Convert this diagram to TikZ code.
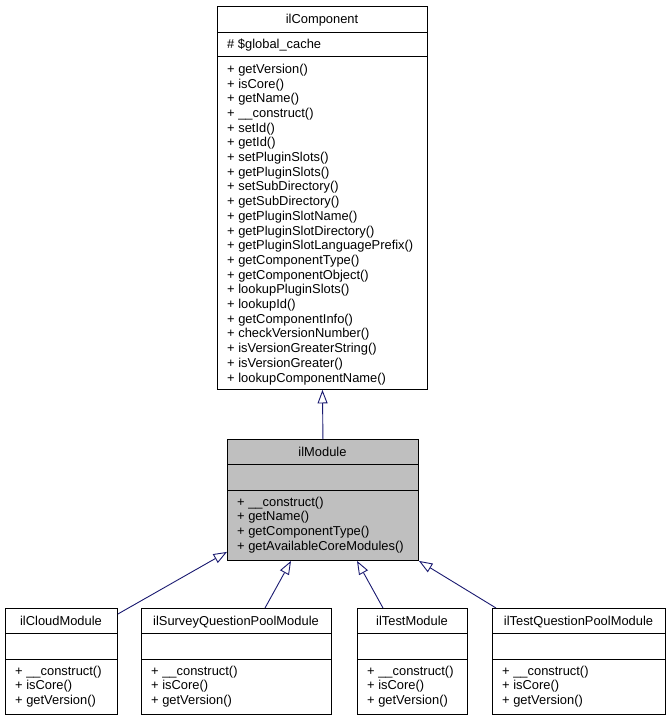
\documentclass[tikz,border=0pt]{standalone}
\usepackage{fontspec}
\setmainfont{Liberation Sans}
\usetikzlibrary{arrows.meta,calc}
\definecolor{edgeblue}{HTML}{191970}
\definecolor{modgray}{HTML}{BFBFBF}
\tikzset{
  box/.style={draw=black, line width=0.9pt, inner sep=0pt, anchor=north west, fill=white},
  sep/.style={draw=black, line width=0.9pt},
  member/.style={anchor=base west, inner sep=0pt, font=\fontsize{12.9}{14}\selectfont},
  ctitle/.style={anchor=base, inner sep=0pt, font=\fontsize{12.9}{14}\selectfont},
  inherit/.style={draw=edgeblue, line width=0.9pt, -{Triangle[open, length=13.5pt, width=10pt, fill=white]}},
}
\begin{document}
\begin{tikzpicture}[x=1pt, y=-1pt]
\useasboundingbox (0,0) rectangle (669,720);
% ilComponent
\node[box, minimum width=210pt, minimum height=383pt] (comp) at (217,6) {};
\draw[sep] (217,32) -- (427,32);
\draw[sep] (217,56) -- (427,56);
\node[ctitle] (comp-t) at (322,23.5) {ilComponent};
\node[member] (comp-a) at (227,48) {\# \$global\_cache};
\foreach \t [count=\i] in {{getVersion()},{isCore()},{getName()},{\_\_construct()},{setId()},{getId()},{setPluginSlots()},{getPluginSlots()},{setSubDirectory()},{getSubDirectory()},{getPluginSlotName()},{getPluginSlotDirectory()},{getPluginSlotLanguagePrefix()},{getComponentType()},{getComponentObject()},{lookupPluginSlots()},{lookupId()},{getComponentInfo()},{checkVersionNumber()},{isVersionGreaterString()},{isVersionGreater()},{lookupComponentName()}}
  \node[member] (comp-m\i) at (227,{73.3+14.7*(\i-1)}) {+ \t};
% ilModule
\node[box, fill=modgray, minimum width=191pt, minimum height=121pt] (module) at (227,439) {};
\draw[sep] (227,464) -- (418,464);
\draw[sep] (227,490) -- (418,490);
\node[ctitle] (module-t) at (322.5,456) {ilModule};
\foreach \t [count=\i] in {{\_\_construct()},{getName()},{getComponentType()},{getAvailableCoreModules()}}
  \node[member] (module-m\i) at (237,{506+14.7*(\i-1)}) {+ \t};
% bottom classes
\foreach \n/\x/\w/\title in {cloud/5/112/ilCloudModule, survey/141/190/ilSurveyQuestionPoolModule, test/357/110/ilTestModule, tqp/492/173/ilTestQuestionPoolModule}{
  \node[box, minimum width=\w pt, minimum height=106pt] (\n) at (\x,608) {};
  \draw[sep] (\x,633) -- ({\x+\w},633);
  \draw[sep] (\x,659) -- ({\x+\w},659);
  \node[ctitle] (\n-t) at ({\x+\w/2},625) {\title};
  \node[member] (\n-m1) at ({\x+10},675) {+ \_\_construct()};
  \node[member] (\n-m2) at ({\x+10},689.7) {+ isCore()};
  \node[member] (\n-m3) at ({\x+10},704.4) {+ getVersion()};
}
% inheritance
\draw[inherit] (module.north) -- (comp.south);
\draw[inherit] ($(cloud.north east)+(0,6)$) -- ($(module.south west)+(0,-9)$);
\draw[inherit] ($(survey.north west)+(124,0)$) -- ($(module.south west)+(64,0)$);
\draw[inherit] ($(test.north west)+(26,0)$) -- ($(module.south west)+(130,0)$);
\draw[inherit] ($(tqp.north west)+(4,0)$) -- (module.south east);
\end{tikzpicture}
\end{document}
